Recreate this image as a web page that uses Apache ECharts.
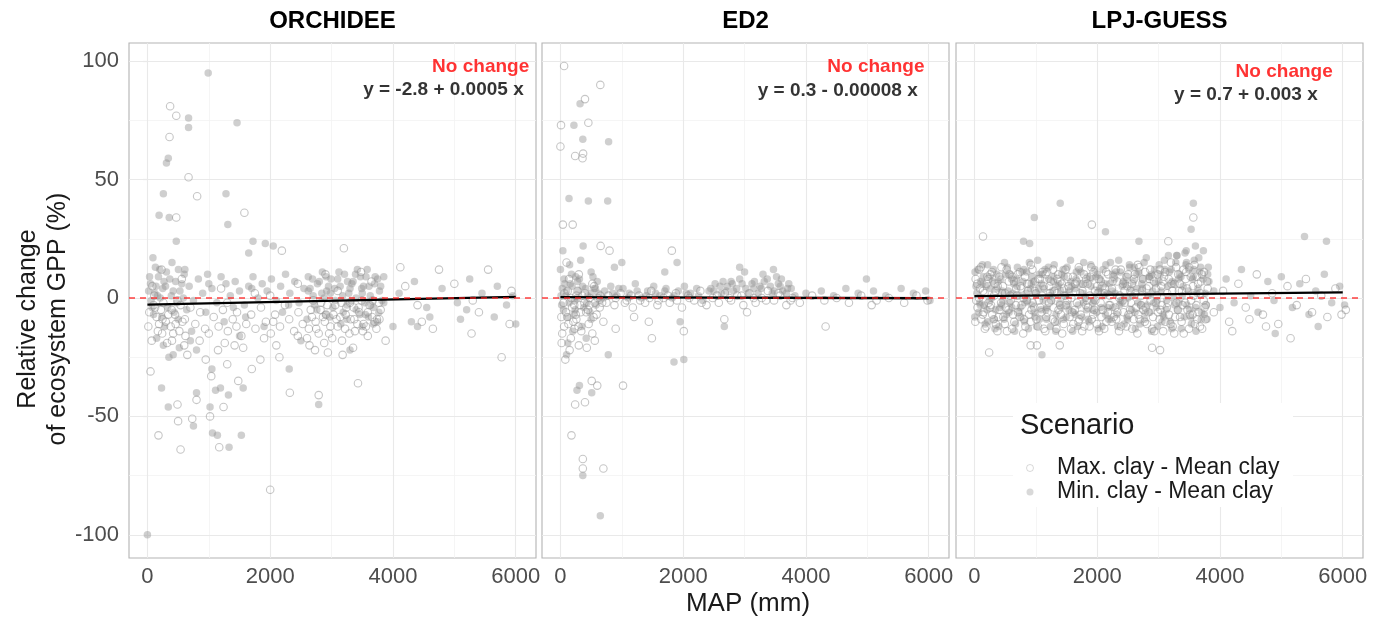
<!DOCTYPE html>
<html>
<head>
<meta charset="utf-8">
<script src="https://cdn.jsdelivr.net/npm/echarts@6/dist/echarts.min.js"></script>
<style>
html,body{margin:0;padding:0;background:#fff;}
#chart{width:1387px;height:626px;}
</style>
</head>
<body>
<div id="chart"></div>
<script>
// ---------- labels / ticks ----------
const panelNames = ['ORCHIDEE', 'ED2', 'LPJ-GUESS'];
const scenarioNames = ['Max. clay - Mean clay', 'Min. clay - Mean clay'];
const xTicks = [0, 2000, 4000, 6000];
const xMinor = [1000, 3000, 5000];
const yTicks = [-100, -50, 0, 50, 100];
const yMinor = [-75, -25, 25, 75];
const equations = ['y = -2.8 + 0.0005 x', 'y = 0.3 - 0.00008 x', 'y = 0.7 + 0.003 x'];
const noChangeText = 'No change';

// ---------- data: [MAP (mm), relative change (%)] ----------
const orchideeMax = [
[370,81],[470,77],[360,68],[670,51],[810,43],[1580,36],[470,34],[3200,21],[2190,20],
[50,-31],[180,-58],[540,-64],[490,-45],[500,-52],[730,-51],[800,-43],[1020,-50],[1170,-63],[1240,-46],
[1040,-33],[1480,-35],[2000,-81],[2320,-40],[2790,-41],[3430,-36],[5770,-25],[1700,-30],[1840,-26],
[2150,-25],[2730,-22],[2940,-23],[3180,-24],[2640,-20],[950,-26],[600,-20],[400,-18],[1150,-22],
[1300,-28],[1420,-20],[3880,-18],[5280,-15],[5900,-11],[4650,-13],[4470,-10],[1900,-17],[2450,-16],
[100,-3],[150,-8],[220,-5],[300,-10],[380,-12],[450,-7],[520,-14],[610,-9],[700,-4],[780,-11],
[860,-6],[940,-13],[1000,-15],[1080,-8],[1160,-12],[1230,-5],[1310,-14],[1390,-9],[1460,-6],[1530,-16],
[1610,-11],[1690,-7],[1760,-13],[1850,-4],[1930,-10],[2010,-15],[2080,-7],[2160,-12],[2240,-3],[2310,-9],
[2390,-14],[2460,-6],[2530,-11],[2600,-17],[2680,-8],[2750,-13],[2820,-5],[2890,-10],[2960,-15],[3030,-7],
[3100,-12],[3170,-18],[3240,-4],[3310,-9],[3380,-14],[3450,-6],[3520,-11],[3590,-16],[3660,-8],[3730,-13],[3800,-5],
[30,-6],[110,1],[190,-11],[260,-2],[340,-7],[420,-15],[490,-1],[570,-10],[2660,-5],[2740,-10],[2830,-2],
[2910,-7],[2980,-12],[3060,-3],[3140,-8],[3220,-13],[3300,-2],[3370,-9],[3440,-4],[3510,-14],[3590,-6],
[3670,-1],[3740,-9],[1260,-19],[1560,-21],[2100,-20],[2880,-19],[3350,-21],[650,-24],[240,-15],
[3480,11],[4120,13],[4750,12],[5550,12],[5930,3],[4200,5],[5000,6],[4400,-3],[5300,-1],[3780,-9],
[2900,10],[230,12],[80,5],[560,8],[1200,4],[1750,2],[2450,6],[3100,3],[3650,7],[1300,-2],[2000,1],[5400,-6],
[15,-12],[70,-18],[125,-4],[170,-14],[245,-9],[320,-19],[395,-5],[460,-11],[540,-3],[620,-16],[2630,-13],
[2700,-1],[2790,-15],[2860,-8],[2930,-3],[3010,-17],[3080,-9],[3160,-2],[3230,-7],[3290,-15],[3360,-4],
[3420,-11],[3490,-1],[3560,-12],[3620,-3],[3700,-10],[3770,-2],[850,-18],[1450,-12],[2050,-10]
];
const orchideeMin = [
[990,95],[670,76],[670,72],[1460,74],[310,57],[340,59],[260,44],[1280,44],[190,35],[355,34],[1310,31],
[470,24],[1720,24],[1920,23],[1650,19],[2050,22],[230,-38],[340,-46],[750,-54],[800,-40],[1020,-46],
[1060,-57],[1140,-58],[1330,-63],[1110,-39],[1190,-38],[1320,-41],[1560,-38],[1530,-58],[2310,-30],
[2790,-45],[0,-100],[1050,-30],[350,-25],[520,-21],[150,-17],[700,-18],[1500,-16],[2500,-18],[3300,-22],
[4000,-12],[4300,-10],[4600,-8],[5100,-9],[5650,-8],[6000,-11],[200,12],[400,15],[90,17],[600,10],
[50,6],[120,2],[180,9],[250,4],[310,11],[390,1],[460,7],[530,3],[610,12],[680,5],[750,-1],[830,8],
[900,2],[980,10],[1050,4],[1130,-2],[1200,9],[1280,6],[1350,1],[1430,7],[1500,3],[1580,-3],[1650,5],
[1720,9],[1800,0],[1870,6],[1950,3],[2020,8],[2100,-1],[2170,5],[2250,10],[2320,2],[2400,7],[2470,-2],
[2550,4],[2620,9],[2700,1],[2770,6],[2850,11],[2920,3],[2990,8],[3060,-1],[3140,5],[3210,10],[3280,2],
[3350,7],[3420,12],[3490,4],[3560,9],[3630,1],[3700,6],[3780,3],[3850,-2],
[100,-7],[280,-12],[500,-9],[720,-14],[950,-6],[1250,-10],[1600,-8],[1900,-12],[2200,-6],[2600,-9],
[2900,-7],[3150,-11],[3400,-5],[3600,-8],[3750,-10],[3250,-9],[3500,-12],[3680,-11],[3550,-7],
[20,3],[60,-1],[140,5],[210,0],[270,7],[330,-4],[420,3],[480,-2],[560,6],[2650,4],[2720,-3],[2800,7],
[2880,0],[2950,5],[3020,-4],[3100,8],[3180,1],[3250,-3],[3330,6],[3400,0],[3470,9],[3540,-2],[3610,5],
[3680,-4],[3750,8],[3820,-1],[3500,2],[3300,4],[2980,2],[260,-20],[420,-24],[800,-22],
[4100,2],[4350,7],[4550,-4],[4800,4],[5050,-2],[5250,8],[5450,2],[5700,5],[5850,-3],[5950,1],[4400,-12],[5200,-5],
[35,9],[75,-4],[130,13],[165,1],[235,-8],[295,5],[365,8],[435,-6],[505,12],[585,0],[640,-5],[1000,6],
[1400,-4],[1700,4],[2300,-3],[2620,3],[2690,8],[2760,-5],[2840,2],[2910,9],[2970,-8],[3050,4],[3120,11],
[3190,-6],[3260,7],[3320,-1],[3390,10],[3460,-7],[3520,5],[3580,12],[3640,-3],[3710,9],[3770,-6],[3800,5],[3850,9]
];
const ed2Max = [
[60,98],[650,90],[400,84],[10,73],[455,74],[0,64],[240,60],[370,61],[360,59],[40,31],[200,31],[655,22],
[800,20],[1815,20],[180,-58],[365,-68],[365,-72],[700,-72],[510,-35],[600,-37],[1020,-37],[240,-45],
[400,-44],[150,-22],[80,-26],[300,-20],[4320,-12],[2670,-9],[1490,-17],[1440,-10],[2010,-14],[3040,-6],
[5070,-3],[520,-15],[700,-10],[900,-13],[1200,-8],[60,-12],[260,-9],[450,-5],[100,15],[300,10],[550,5],
[50,-2],[120,3],[190,-4],[260,1],[330,-6],[400,2],[470,-3],[540,-8],[610,0],[680,-2],[780,1],[880,-3],
[980,2],[1080,-1],[1180,-4],[1280,1],[1380,-2],[1480,3],[1580,-3],[1680,0],[1780,-2],[1880,2],[1980,-4],
[2080,1],[2180,-1],[2280,3],[2380,-3],[2480,0],[2580,-2],[2680,2],[2780,-1],[2880,1],[2980,-3],[3080,2],
[3180,-2],[3280,0],[3380,3],[3480,-1],[3580,1],[3680,-3],[3780,0],[3900,-2],[4100,1],[4300,-1],[4500,0],
[4700,-2],[4900,1],[5150,-1],[5350,0],[5600,-2],[5800,1],[5980,-1],
[30,-15],[90,-6],[140,8],[210,-10],[280,3],[340,-14],[390,-2],[460,-11],[520,6],[590,-7],[640,-4],
[20,-19],[170,-17],[230,-13],[430,-21],[110,-8],[560,-18],[320,-3],[250,-7],
[15,-8],[65,2],[130,-11],[175,0],[225,-3],[295,-12],[355,1],[420,-6],[480,0],[560,-2],[650,1],[750,-2],
[900,0],[1050,-2],[1150,1],[1300,-1],[1450,0],[1600,-1],[1750,1],[1900,-1],[2100,0],[2300,-2],[2550,1],
[2750,0],[2950,1],[3150,0],[3350,-1],[3550,2],[3750,-1]
];
const ed2Min = [
[320,82],[220,73],[365,67],[785,66],[140,42],[455,41],[770,41],[370,22],[40,20],[1900,15],[1700,11],
[880,13],[1000,15],[2920,13],[3470,12],[4985,8],[365,-75],[650,-92],[270,-39],[310,-37],[510,-40],
[1850,-27],[2010,-26],[100,-24],[780,-24],[2670,-12],[1950,-10],[0,12],[60,8],[150,14],[250,9],[330,16],
[500,11],[600,7],[200,-14],[420,-17],[120,-19],
[30,4],[90,1],[160,6],[230,-1],[290,3],[360,5],[430,-2],[500,2],[570,4],[640,-1],[720,3],[820,5],
[920,1],[1020,4],[1120,2],[1220,6],[1320,0],[1420,3],[1520,5],[1620,1],[1720,4],[1820,0],[1920,3],
[2020,5],[2120,2],[2220,4],[2320,-1],[2420,3],[2520,6],[2620,2],[2720,5],[2820,3],[2920,8],[3020,4],
[3120,6],[3220,2],[3320,7],[3420,5],[3520,9],[3620,3],[3720,6],[3820,1],[4000,2],[4250,3],[4450,1],
[4650,4],[4850,2],[5100,3],[5300,1],[5550,4],[5750,2],[5950,3],[6020,-1],[3000,11],[3300,10],[3600,8],
[20,-3],[70,6],[120,-8],[180,10],[240,-5],[280,7],[350,-12],[410,4],[480,-6],[530,9],[580,-3],
[2500,3],[2800,6],[3150,4],[3450,2],[3700,4],[2650,7],[3250,5],[3550,6],
[10,1],[50,-5],[100,3],[140,-2],[190,5],[220,-7],[270,0],[310,8],[380,-4],[440,1],[500,-9],[550,4],
[620,2],[700,0],[850,2],[950,4],[1100,0],[1250,3],[1400,1],[1550,2],[1700,3],[1850,1],[2050,2],[2250,1],
[2450,4],[2600,5],[2700,3],[2780,7],[2870,4],[2960,6],[3060,2],[3160,7],[3270,4],[3370,8],[3480,3],
[3580,5],[3680,2],[3760,4]
];
const lpjMax = [
[3566,34],[1913,31],[140,26],[3158,24],[240,-23],[2894,-21],[3024,-22],[5150,-17],[1390,-20],[916,-20],
[1018,-20],[4200,-14],[4480,-9],[4750,-12],
[20,8],[50,-4],[80,12],[110,-9],[140,3],[170,-13],[200,6],[230,-2],[260,10],[290,-7],[320,1],[350,-11],
[380,5],[410,-5],[440,13],[470,-8],[500,2],[530,-14],[560,7],[590,-1],[620,9],[650,-10],[680,4],[710,-6],
[740,11],[770,-3],[800,0],[830,-12],[860,6],[890,-7],[920,14],[950,-2],[980,3],[1010,-9],[1040,8],[1070,-4],
[1100,1],[1130,-13],[1160,10],[1190,-6],[1220,5],[1250,-1],[1280,12],[1310,-10],[1340,2],[1370,-5],[1400,7],
[1430,-15],[1460,4],[1490,-3],[1520,9],[1550,-8],[1580,0],[1610,-11],[1640,6],[1670,-2],[1700,13],[1730,-7],
[1760,3],[1790,-12],[1820,8],[1850,-4],[1880,1],[1910,-9],[1940,11],[1970,-1],[2000,5],[2030,-14],[2060,7],
[2090,-5],[2120,2],[2150,-10],[2180,10],[2210,-3],[2240,4],[2270,-8],[2300,12],[2330,-6],[2360,0],[2390,-12],
[2420,6],[2450,-2],[2480,9],[2510,-7],[2540,3],[2570,-13],[2600,8],[2630,-4],[2660,14],[2690,-9],[2720,1],
[2750,-5],[2780,11],[2810,-11],[2840,5],[2870,-1],[2900,9],[2930,-14],[2960,4],[2990,-6],[3020,12],[3050,-3],
[3080,7],[3110,-10],[3140,2],[3170,-7],[3200,15],[3230,-12],[3260,6],[3290,-2],[3320,10],[3350,-8],[3380,3],
[3410,-15],[3440,8],[3470,-5],[3500,13],[3530,-1],[3560,5],[3590,-11],[3620,9],[3650,-6],[3680,2],[3710,-13],
[3740,11],[3770,-3],[3800,4],
[3900,-6],[4050,3],[4150,-10],[4300,6],[4420,-4],[4600,10],[4700,-7],[4850,2],[4950,-11],[5100,5],[5250,-3],
[5400,8],[5500,-6],[5650,1],[5750,-8],[5880,4],[5980,-7],[6050,-5],
[30,-1],[90,4],[150,-6],[210,9],[270,-3],[330,6],[390,-8],[450,2],[510,-4],[570,10],[630,-7],[690,1],
[750,5],[810,-9],[870,3],[930,-5],[990,7],[1050,-1],[1110,11],[1170,-8],[1230,2],[1290,-4],[1350,8],
[1410,-7],[1470,1],[1530,5],[1590,-6],[1650,3],[1710,-9],[1770,6],[1830,-1],[1890,9],[1950,-5],[2010,2],
[2070,-8],[2130,4],[2190,-3],[2250,7],[2310,-9],[2370,1],[2430,-6],[2490,5],[2550,-2],[2610,10],[2670,-7],
[2730,3],[2790,-4],[2850,8],[2910,-8],[2970,1],[3030,-5],[3090,9],[3150,-2],[3210,6],[3270,-8],[3330,3],
[3390,-3],[3450,11],[3510,-7],[3570,1],[3630,-9],[3690,7],[3750,-4],
[15,-10],[45,6],[75,0],[105,13],[135,-7],[165,2],[195,-12],[225,8],[255,-4],[285,11],[315,-9],[345,3],
[375,-14],[405,9],[435,-2],[465,5],[495,-11],[525,12],[555,-5],[585,1],[615,-13],[645,7],[675,-3],[705,10],
[735,-8],[765,4],[795,-15],[825,9],[855,-1],[885,6],[915,-10],[945,12],[975,-4],[1005,2],[1035,-12],[1065,8],
[1095,-6],[1125,5],[1155,-14],[1185,11],[1215,-2],[1245,7],[1275,-9],[1305,3],[1335,-13],[1365,10],[1395,-3],
[1425,6],[1455,-11],[1485,12],[1515,-1],[1545,4],[1575,-13],[1605,9],[1635,-5],[1665,7],[1695,-10],[1725,2],
[1755,-14],[1785,10],[1815,-3],[1845,6],[1875,-12],[1905,13],[1935,-7],[1965,3],[1995,-11],[2025,8],[2055,-2],
[2085,5],[2115,-13],[2145,11],[2175,-6],[2205,1],[2235,-10],[2265,9],[2295,-4],[2325,7],[2355,-14],[2385,12],
[2415,-1],[2445,3],[2475,-12],[2505,10],[2535,-5],[2565,6],[2595,-9],[2625,2],[2655,-15],[2685,13],[2715,-3],
[2745,8],[2775,-10],[2805,4],[2835,-6],[2865,12],[2895,-13],[2925,7],[2955,-2],[2985,10],[3015,-9],[3045,5],
[3075,-14],[3105,11],[3135,-4],[3165,8],[3195,-11],[3225,3],[3255,-15],[3285,13],[3315,-5],[3345,6],[3375,-10],
[3405,12],[3435,-2],[3465,4],[3495,-13],[3525,9],[3555,-7],[3585,14],[3615,-3],[3645,6],[3675,-12],[3705,10],
[3735,-1],[3765,-9],[3790,7]
];
const lpjMin = [
[3566,40],[3530,29],[1398,40],[976,34],[2135,28],[5377,26],[5735,24],[800,24],[900,23],[2680,24],
[1100,-24],[3600,22],[3450,20],[3300,18],[5600,-12],[4900,-15],
[10,11],[40,2],[70,-6],[100,7],[130,14],[160,-3],[190,5],[220,-10],[250,9],[280,0],[310,12],[340,-5],
[370,4],[400,-12],[430,8],[460,-1],[490,15],[520,-7],[550,3],[580,10],[610,-4],[640,6],[670,-11],[700,13],
[730,1],[760,-8],[790,7],[820,-2],[850,11],[880,-13],[910,4],[940,9],[970,-6],[1000,2],[1030,16],[1060,-9],
[1090,6],[1120,-1],[1150,12],[1180,-4],[1210,8],[1240,-12],[1270,3],[1300,14],[1330,-7],[1360,5],[1390,-2],
[1420,10],[1450,-9],[1480,1],[1510,13],[1540,-5],[1570,7],[1600,-14],[1630,4],[1660,11],[1690,-3],[1720,6],
[1750,-8],[1780,15],[1810,0],[1840,9],[1870,-10],[1900,5],[1930,-2],[1960,12],[1990,-6],[2020,3],[2050,8],
[2080,-12],[2110,1],[2140,14],[2170,-4],[2200,6],[2230,-9],[2260,10],[2290,2],[2320,-7],[2350,16],[2380,-1],
[2410,5],[2440,-11],[2470,9],[2500,0],[2530,13],[2560,-5],[2590,7],[2620,-13],[2650,4],[2680,11],[2710,-3],
[2740,8],[2770,-9],[2800,17],[2830,1],[2860,-6],[2890,10],[2920,-2],[2950,6],[2980,-12],[3010,14],[3040,3],
[3070,-7],[3100,12],[3130,-1],[3160,18],[3190,-10],[3220,7],[3250,0],[3280,15],[3310,-5],[3340,10],[3370,-13],
[3400,5],[3430,19],[3460,-3],[3490,12],[3520,-8],[3550,8],[3580,16],[3610,-14],[3640,4],[3670,11],[3700,-6],
[3730,20],[3760,2],[3790,-9],[3820,7],
[25,5],[85,-2],[145,9],[205,-5],[265,4],[325,-9],[385,7],[445,-3],[505,10],[565,-6],[625,2],[685,8],
[745,-4],[805,12],[865,-1],[925,6],[985,-8],[1045,4],[1105,10],[1165,-5],[1225,1],[1285,7],[1345,-10],
[1405,3],[1465,9],[1525,-3],[1585,5],[1645,-7],[1705,12],[1765,2],[1825,-5],[1885,8],[1945,-1],[2005,10],
[2065,-4],[2125,6],[2185,-9],[2245,3],[2305,11],[2365,-3],[2425,7],[2485,-8],[2545,4],[2605,13],[2665,-2],
[2725,6],[2785,-6],[2845,9],[2905,3],[2965,-4],[3025,10],[3085,-8],[3145,5],[3205,12],[3265,-3],[3325,8],
[3385,1],[3445,14],[3505,-5],[3565,9],[3625,2],[3685,13],[3745,-7],[3800,10],
[3900,3],[4000,-4],[4100,8],[4230,-2],[4350,12],[4500,1],[4620,-6],[4780,7],[4880,-1],[5000,9],[5180,-4],
[5300,6],[5450,-7],[5560,3],[5700,10],[5820,-2],[5950,5],[6030,-3],
[5,-8],[55,12],[95,-3],[125,6],[175,-11],[215,14],[245,-1],[295,7],[335,-13],[365,10],[415,-4],[455,3],
[485,-9],[535,13],[575,-2],[605,8],[655,-14],[695,5],[725,-6],[775,11],[815,-10],[845,2],[895,15],[935,-3],
[965,7],[1015,-12],[1055,10],[1085,-5],[1135,4],[1175,-9],[1205,13],[1255,-1],[1295,9],[1325,-14],[1375,6],
[1415,-4],[1445,12],[1495,-8],[1535,3],[1565,16],[1615,-6],[1655,8],[1685,-12],[1735,11],[1775,-2],[1805,6],
[1855,-9],[1895,14],[1925,-5],[1975,9],[2015,-13],[2045,4],[2095,12],[2135,-7],[2165,2],[2215,15],[2255,-4],
[2285,8],[2335,-12],[2375,11],[2405,-2],[2455,6],[2495,-9],[2525,14],[2575,1],[2615,-6],[2645,10],[2695,-11],
[2735,4],[2765,15],[2815,-3],[2855,9],[2885,-14],[2935,12],[2975,-1],[3005,7],[3055,-10],[3095,16],[3125,-5],
[3175,11],[3215,-13],[3245,6],[3295,18],[3335,-2],[3365,9],[3415,-8],[3455,15],[3485,3],[3535,-11],[3575,12],
[3605,-4],[3655,17],[3695,-9],[3725,8],[3775,-3],[3810,13]
];
// fitted regression lines (end points)
const orchideeFit = [[0,-2.8],[6000,0.5]];
const ed2Fit = [[0,0.4],[6000,-0.1]];
const lpjFit = [[0,0.8],[6000,2.4]];

// ---------- layout ----------
const FONT = '"Liberation Sans", Arial, Helvetica, sans-serif';
const gridLefts = [129, 542, 956];
const gridTop = 43, gridW = 407, gridH = 515;
const xMin = -300, xMax = 6330, yMin = -109.8, yMax = 107.7;
const noChangeAnchor = [[6220, 97.6], [5930, 97.6], [5837, 95.4]];
const eqAnchor = [[6130, 88], [5821, 87.5], [5593, 85.7]];

const maxSets = [orchideeMax, ed2Max, lpjMax];
const minSets = [orchideeMin, ed2Min, lpjMin];
const fits = [orchideeFit, ed2Fit, lpjFit];

const grids = [], xAxes = [], yAxes = [], series = [];
const gridMarkData = [];
xMinor.forEach(v => gridMarkData.push({xAxis: v, lineStyle: {color: '#f3f3f3', width: 0.8, type: 'solid'}}));
yMinor.forEach(v => gridMarkData.push({yAxis: v, lineStyle: {color: '#f3f3f3', width: 0.8, type: 'solid'}}));
xTicks.forEach(v => gridMarkData.push({xAxis: v, lineStyle: {color: '#e9e9e9', width: 1.1, type: 'solid'}}));
yTicks.forEach(v => gridMarkData.push({yAxis: v, lineStyle: {color: '#e9e9e9', width: 1.1, type: 'solid'}}));

const plain = v => String(v);

for (let i = 0; i < 3; i++) {
  grids.push({left: gridLefts[i], top: gridTop, width: gridW, height: gridH,
    show: true, backgroundColor: '#fff', borderColor: '#b3b3b3', borderWidth: 1.1, z: 0});
  xAxes.push({type: 'value', gridIndex: i, min: xMin, max: xMax,
    axisLine: {show: false},
    axisTick: {show: true, customValues: xTicks, length: 5, lineStyle: {color: '#b3b3b3', width: 1.1}},
    axisLabel: {show: true, customValues: xTicks, formatter: plain, color: '#4d4d4d', fontSize: 22, fontFamily: FONT, margin: 8},
    splitLine: {show: false}, minorSplitLine: {show: false}});
  yAxes.push({type: 'value', gridIndex: i, min: yMin, max: yMax,
    axisLine: {show: false},
    axisTick: {show: i === 0, customValues: yTicks, length: 5, lineStyle: {color: '#b3b3b3', width: 1.1}},
    axisLabel: {show: i === 0, customValues: yTicks, formatter: plain, color: '#4d4d4d', fontSize: 22, fontFamily: FONT, margin: 10},
    splitLine: {show: false}, minorSplitLine: {show: false}});

  series.push({
    name: scenarioNames[0], type: 'scatter', xAxisIndex: i, yAxisIndex: i,
    data: maxSets[i], symbol: 'circle', symbolSize: 7.5, z: 2, silent: true,
    itemStyle: {color: 'rgba(255,255,255,0)', borderColor: 'rgba(145,145,145,0.65)', borderWidth: 1.1},
    markLine: {silent: true, symbol: ['none', 'none'], label: {show: false}, z: 1, animation: false, data: gridMarkData}
  });
  series.push({
    name: scenarioNames[1], type: 'scatter', xAxisIndex: i, yAxisIndex: i,
    data: minSets[i], symbol: 'circle', symbolSize: 7.5, z: 2, silent: true,
    itemStyle: {color: 'rgba(145,145,145,0.55)', borderWidth: 0}
  });
  series.push({
    name: 'fit' + i, type: 'line', xAxisIndex: i, yAxisIndex: i, data: fits[i],
    symbol: 'none', z: 4, silent: true,
    lineStyle: {color: '#000', width: 2.3},
    markLine: {silent: true, symbol: ['none', 'none'], label: {show: false}, z: 6, animation: false,
      lineStyle: {color: 'rgba(255,30,30,0.85)', width: 1.5, type: [6, 5]},
      data: [{yAxis: 0}]}
  });
  series.push({
    name: 'annot' + i, type: 'scatter', xAxisIndex: i, yAxisIndex: i, symbolSize: 0, z: 7, silent: true,
    data: [
      {value: noChangeAnchor[i], label: {show: true, position: 'left', distance: 0, formatter: noChangeText,
        color: '#ff0000', fontSize: 19, fontWeight: 'bold', fontFamily: FONT}},
      {value: eqAnchor[i], label: {show: true, position: 'left', distance: 0, formatter: equations[i],
        color: '#000', fontSize: 19, fontWeight: 'bold', fontFamily: FONT}}
    ]
  });
}

const graphics = [];
panelNames.forEach((n, i) => graphics.push({type: 'text', x: gridLefts[i] + gridW / 2, y: 21,
  style: {text: n, font: 'bold 24px ' + FONT, fill: '#000', align: 'center', verticalAlign: 'middle'}}));
graphics.push({type: 'text', x: 43, y: 319, rotation: Math.PI / 2,
  style: {text: 'Relative change\nof ecosystem GPP (%)', font: '25px ' + FONT, fill: '#1a1a1a',
    align: 'center', verticalAlign: 'middle', lineHeight: 30}});
graphics.push({type: 'text', x: 748, y: 604,
  style: {text: 'MAP (mm)', font: '26px ' + FONT, fill: '#1a1a1a', align: 'center', verticalAlign: 'middle'}});
graphics.push({type: 'rect', z: 10, shape: {x: 1013, y: 403, width: 280, height: 104}, style: {fill: '#fff'}});
graphics.push({type: 'text', z: 11, x: 1020, y: 426,
  style: {text: 'Scenario', font: '29px ' + FONT, fill: '#1a1a1a', align: 'left', verticalAlign: 'middle'}});

const chart = echarts.init(document.getElementById('chart'), null, {renderer: 'canvas'});
chart.setOption({
  animation: false,
  backgroundColor: '#fff',
  grid: grids, xAxis: xAxes, yAxis: yAxes, series: series,
  graphic: graphics,
  legend: {
    show: true, orient: 'vertical', left: 1021, top: 451, z: 12,
    itemWidth: 44, itemHeight: 7, itemGap: 0, selectedMode: false,
    textStyle: {fontSize: 23, fontFamily: FONT, color: '#1a1a1a', lineHeight: 24},
    data: [
      {name: scenarioNames[0], icon: 'circle', itemStyle: {color: '#fff', borderColor: 'rgba(150,150,150,0.45)', borderWidth: 1}},
      {name: scenarioNames[1], icon: 'circle', itemStyle: {color: 'rgba(150,150,150,0.45)', borderWidth: 0}}
    ]
  }
});
</script>
</body>
</html>
